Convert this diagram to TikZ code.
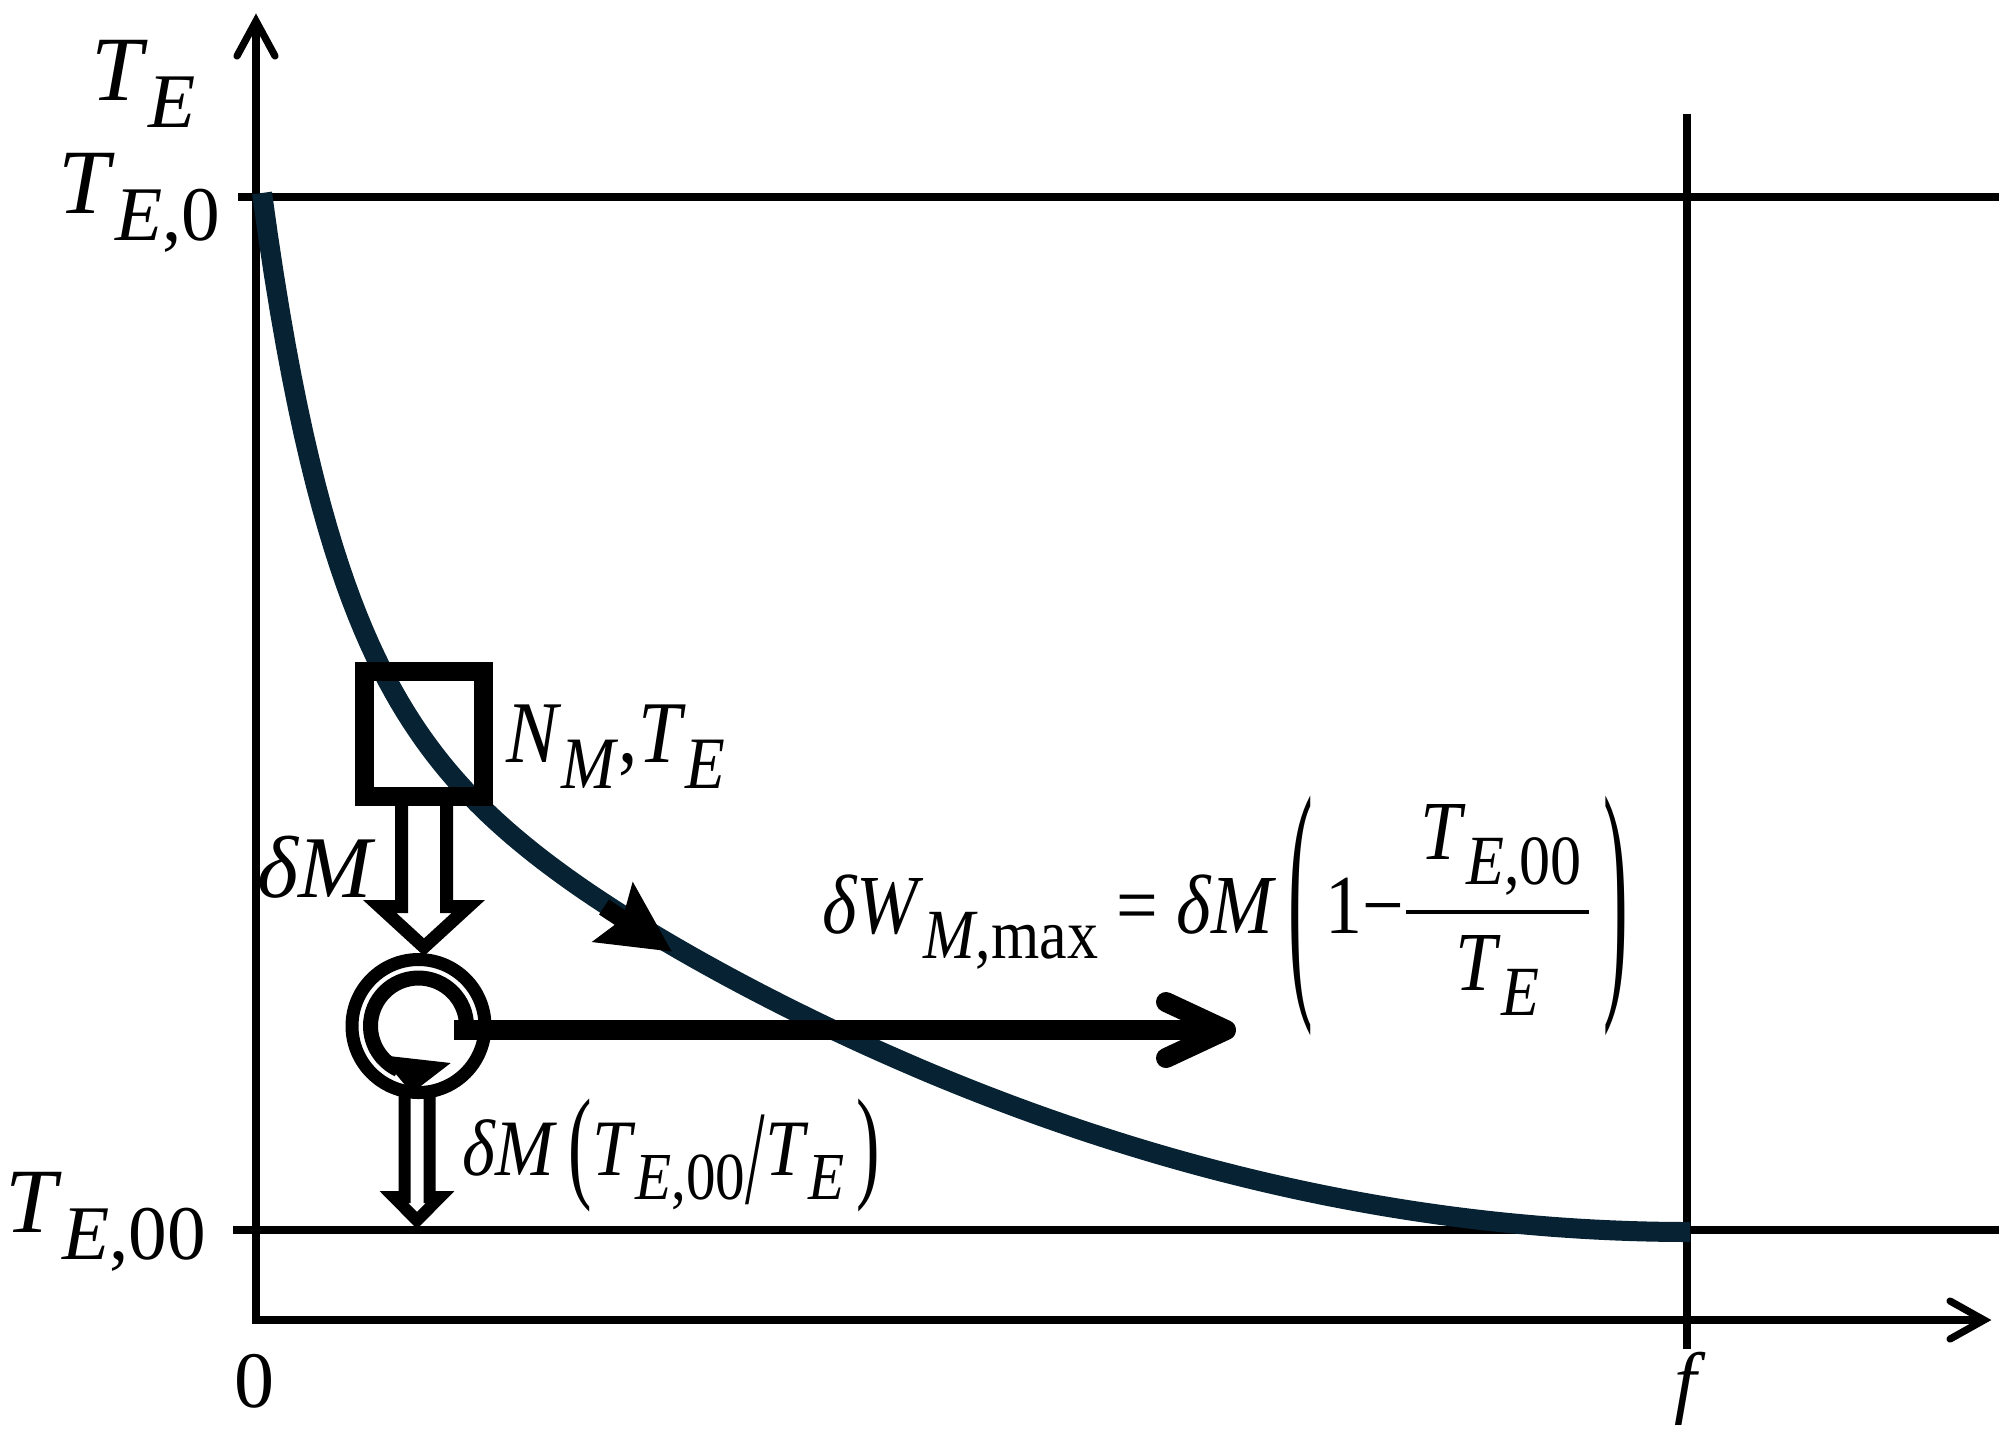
\documentclass[tikz,border=0pt]{standalone}
\usepackage{fix-cm}
\usepackage{amsmath}
\usepackage{fontspec}
\setmainfont{Liberation Serif}
\usepackage{graphicx}
\definecolor{curvec}{RGB}{6,34,51}
\newcommand\lsub[1]{\raisebox{-0.3em}{\scalebox{0.84}{#1}}}
\newcommand\ti[1]{\textit{#1}}
\newcommand\bigp[3]{\raisebox{#3}{\scalebox{1}[#2]{#1}}}
\newcommand\cond[1]{\scalebox{0.88}[1]{#1}}
\begin{document}
\begin{tikzpicture}[x=0.5pt,y=-0.5pt,line join=miter,
  axisline/.style={line width=3.6pt},
  hollow/.style={fill=white,draw=black,line join=miter},
  lbl/.style={inner sep=0pt,anchor=base west,font=\fontsize{46}{54}\selectfont},
  lblm/.style={inner sep=0pt,anchor=base west,font=\fontsize{44}{52}\selectfont},
  lblf/.style={inner sep=0pt,anchor=base west,font=\fontsize{42}{50}\selectfont},
  lbls/.style={inner sep=0pt,anchor=base west,font=\fontsize{40}{48}\selectfont},
  tick/.style={inner sep=0pt,anchor=base,font=\fontsize{40}{48}\selectfont}]
\useasboundingbox (0,0) rectangle (2011,1442);

% axes
\coordinate (O) at (256,1320);
\coordinate (ytip) at (256,21);
\coordinate (xtip) at (1984,1320);
\coordinate (yb1) at (237,56);
\coordinate (yb2) at (275,56);
\coordinate (xb1) at (1950,1301);
\coordinate (xb2) at (1950,1339);
\draw[axisline] (ytip) -- (O) -- (xtip);
\draw[axisline,line cap=round] (yb1) -- (ytip) -- (yb2);
\draw[axisline,line cap=round] (xb1) -- (xtip) -- (xb2);

% reference lines
\coordinate (t0a) at (238,197);  \coordinate (t0b) at (1999,197);
\coordinate (t00a) at (233,1230); \coordinate (t00b) at (1999,1230);
\coordinate (fa) at (1687,114);  \coordinate (fb) at (1687,1349);
\draw[axisline] (t0a) -- (t0b);
\draw[axisline] (t00a) -- (t00b);
\draw[axisline] (fa) -- (fb);

% curve
\draw[curvec,line width=10pt] plot[domain=0:1428,samples=240,variable=\t]
  ({262+\t},{1232-561*(1-\t/1428)^2-478*exp(-0.0138*\t)});

% arrow on curve
\coordinate (ca0) at (604,907);
\coordinate (can) at (622.4,919.1);
\draw[line width=9pt] (ca0) -- (can);
\fill (671.7,951.5) -- (632.7,881.6) -- (can) -- (591.7,942) -- cycle;

% hollow arrow box -> circle
\draw[hollow,line width=6.5pt] (401.5,800) -- (401.5,906.5) -- (379.7,906.5) -- (424,947.1)
  -- (468.3,906.5) -- (446.5,906.5) -- (446.5,800);

% box
\draw[line width=9.5pt] (364.5,671.5) rectangle (483.5,796.5);

% hollow arrow circle -> bottom line
\draw[hollow,line width=6pt] (404.5,1092) -- (404.5,1197) -- (393.9,1197) -- (417,1220.4)
  -- (440.1,1197) -- (429.5,1197) -- (429.5,1092);

% engine circle
\coordinate (C) at (418.5,1026);
\draw[line width=6.5pt] (C) circle[radius=66.5];
\draw[line width=7.5pt] (466.5,1026) arc[start angle=0,end angle=-245,radius=48];
\fill (380,1055) -- (450.7,1063) -- (411.7,1093) -- cycle;

% work output arrow
\coordinate (w0) at (454,1030);
\coordinate (w1) at (1220,1030);
\coordinate (wt) at (1226,1030);
\draw[line width=10pt] (w0) -- (w1);
\draw[line width=10pt,line cap=round,line join=round] (1166,1002) -- (wt) -- (1166,1058);

% labels
\node[lbl] (te) at (91,100) {\ti{T}\lsub{\ti{E}}};
\node[lbl] (te0) at (58,213) {\ti{T}\lsub{\ti{E},0}};
\node[lbl] (te00) at (5,1232) {\ti{T}\lsub{\ti{E},00}};
\node[tick] (zero) at (254,1407) {0};
\node[tick] (flab) at (1690,1408) {\ti{f}};
\node[lblm] (dm) at (257,897) {\ti{δM}};
\node[lblm] (nm) at (506,762) {\cond{\ti{N}\lsub{\ti{M}},\ti{T}\lsub{\ti{E}}}};
\node[lbls] (dmr) at (462,1175) {\cond{\ti{δM}\,\bigp{(}{1.56}{-0.13em}\ti{T}\lsub{\ti{E},00}\bigp{/}{1.68}{-0.35em}\ti{T}\lsub{\ti{E}}\,\bigp{)}{1.56}{-0.13em}}};
\node[lblf] (form) at (822,933) {\cond{\ti{δW}\lsub{\ti{M},max} = \ti{δM}\,\bigp{(}{3.15}{-0.55em}\,1−$\displaystyle\genfrac{}{}{2.4pt}{0}{\mbox{\hspace{0.2em}\ti{T}\lsub{\ti{E},00}\hspace{0.1em}}}{\mbox{\ti{T}\lsub{\ti{E}}}}$\,\bigp{)}{3.15}{-0.55em}}};
\end{tikzpicture}
\end{document}
